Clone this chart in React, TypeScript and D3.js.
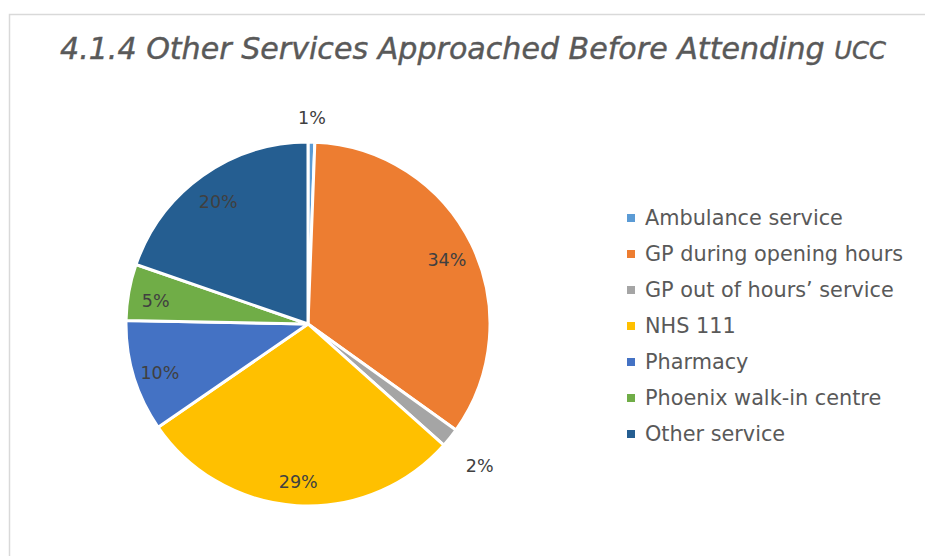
import React from "react";
import * as d3 from "d3";

const categories = [
  "Ambulance service",
  "GP during opening hours",
  "GP out of hours\u2019 service",
  "NHS 111",
  "Pharmacy",
  "Phoenix walk-in centre",
  "Other service",
];
const values = [0.6, 34.3, 1.7, 28.8, 9.9, 5.0, 19.7];
const colors = ["#5B9BD5", "#ED7D31", "#A5A5A5", "#FFC000", "#4472C4", "#70AD47", "#255E91"];
const titleMain = "4.1.4 Other Services Approached Before Attending ";
const titleTail = "UCC";

const W = 925;
const H = 556;
const cx = 308;
const cy = 324;
const R = 182;

export default function App() {
  const pie = d3.pie<number>().sort(null).value((d) => d);
  const arcs = pie(values);
  const arcGen = d3.arc<d3.PieArcDatum<number>>().innerRadius(0).outerRadius(R);
  const total = d3.sum(values);

  const labelPos = (a: d3.PieArcDatum<number>) => {
    const mid = (a.startAngle + a.endAngle) / 2;
    const pct = (a.data / total) * 100;
    let rr = R * 0.85;
    if (pct < 1) rr = R + 28;
    else if (pct < 3) rr = R + 38;
    return [Math.sin(mid) * rr, -Math.cos(mid) * rr + 4];
  };

  return (
    <svg
      width={W}
      height={H}
      style={{ position: "absolute", left: 0, top: 0, background: "#fff" }}
      fontFamily="'DejaVu Sans', Verdana, sans-serif"
    >
      <rect x={9.5} y={14.5} width={W} height={H} fill="#fff" stroke="#D9D9D9" strokeWidth={1.5} />
      <text
        x={60}
        y={59}
        fontSize={31}
        fontStyle="italic"
        fill="#595959"
        stroke="#595959"
        strokeWidth={0.4}
        fontFamily="'DejaVu Sans Condensed', 'DejaVu Sans', sans-serif"
        textLength={826}
        lengthAdjust="spacingAndGlyphs"
      >
        {titleMain}
        <tspan fontSize={25}>{titleTail}</tspan>
      </text>
      <g transform={`translate(${cx},${cy})`}>
        {arcs.map((a, i) => (
          <path key={i} d={arcGen(a) || ""} fill={colors[i]} stroke="#fff" strokeWidth={3} strokeLinejoin="round" />
        ))}
        {arcs.map((a, i) => {
          const [x, y] = labelPos(a);
          return (
            <text
              key={"l" + i}
              x={x}
              y={y}
              textAnchor="middle"
              dominantBaseline="central"
              fontSize={17.5}
              fill="#404040"
            >
              {`${Math.round((a.data / total) * 100)}%`}
            </text>
          );
        })}
      </g>
      <g>
        {categories.map((c, i) => {
          const y = 218 + i * 36;
          return (
            <g key={c}>
              <rect x={627} y={y - 4} width={8} height={8} fill={colors[i]} />
              <text x={645} y={y} dominantBaseline="central" fontSize={20.8} fill="#595959">
                {c}
              </text>
            </g>
          );
        })}
      </g>
    </svg>
  );
}
